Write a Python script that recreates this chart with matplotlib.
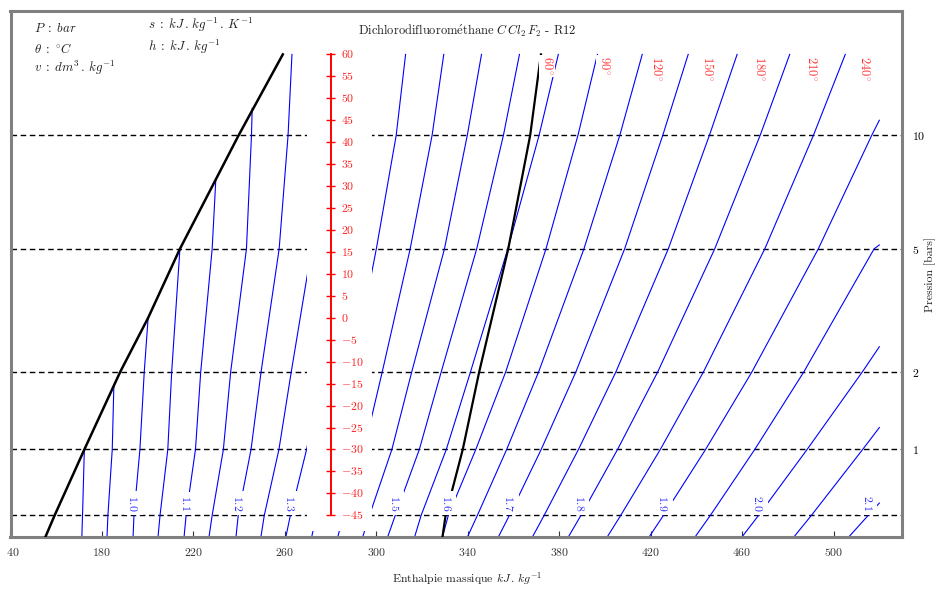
import numpy as np
import matplotlib.pyplot as plt
from matplotlib.patches import Rectangle
from matplotlib.transforms import Bbox

plt.rcParams['font.family'] = ['cmr10', 'DejaVu Serif']
plt.rcParams['mathtext.fontset'] = 'cm'
plt.rcParams['axes.formatter.use_mathtext'] = True

# temperature levels (deg C) where the curves were read
T_lev = [-50, -45, -30, -12.3, 15.7, 41.6, 60]

# saturation curve (liquid / vapour), enthalpy kJ/kg
liq_T = [-50, -45, -30, -12.3, 0, 15.7, 41.6, 60]
liq_h = [155.2, 159.3, 172.3, 188.0, 200.2, 214.1, 239.8, 259.1]
vap_h = [328.9, 330.3, 337.8, 345.0, 357.7, 367.3, 372.0]

# isentropes : h at each level of T_lev (None = not on the chart)
iso_s = [0.90, 0.95, 1.00, 1.05, 1.10, 1.15, 1.20, 1.25, 1.30, 1.35, 1.40, 1.45,
         1.50, 1.55, 1.60, 1.65, 1.70, 1.75, 1.80, 1.85, 1.90, 1.95, 2.00, 2.05, 2.10]
N = None
iso_h = [
    [171.2, 171.5, N, N, N, N, N],
    [182.2, 182.6, 184.5, N, N, N, N],
    [193.6, 194.0, 196.6, 198.5, N, N, N],
    [204.5, 205.4, 208.8, 210.5, N, N, N],
    [215.9, 216.8, 220.9, 223.2, 228.2, N, N],
    [226.8, 228.2, 233.1, 236.3, 243.2, 245.4, N],
    [238.6, 239.6, 245.2, 249.6, 257.5, 261.4, 263.1],
    [249.5, 251.0, 257.4, 262.8, 271.7, 277.1, 279.6],
    [260.4, 262.4, 269.5, 276.2, 286.1, 292.9, 296.2],
    [271.7, 273.8, 282.3, 289.6, 300.0, 308.7, 312.8],
    [283.1, 285.6, 294.6, 302.6, 314.8, 324.4, 329.5],
    [294.0, 297.0, 306.8, 315.5, 329.8, 339.8, 346.0],
    [304.9, 308.3, 318.8, 328.4, 343.9, 355.6, 362.6],
    [316.7, 319.6, 330.6, 341.2, 357.5, 371.2, 379.6],
    [328.9, 331.5, 343.5, 356.6, 374.2, 388.2, 396.7],
    [339.8, 344.2, 357.0, 371.0, 390.8, 406.5, 416.3],
    [353.3, 358.2, 372.1, 387.3, 408.6, 425.3, 436.4],
    [368.2, 373.4, 388.4, 404.8, 427.7, 445.7, 457.8],
    [383.9, 389.5, 405.5, 423.1, 448.0, 467.9, 480.8],
    [400.9, 406.9, 424.2, 443.1, 469.9, 491.2, 505.1],
    [419.2, 425.6, 444.0, 464.3, 493.3, 516.7, N],
    [439.3, 446.1, 465.5, 487.0, 517.7, N, N],
    [459.8, 467.2, 488.4, 512.6, N, N, N],
    [482.5, 490.3, 512.7, N, N, N, N],
    [506.5, N, N, N, N, N, N],
]
# point where the isentrope leaves the liquid line (T, h)
iso_start = {0.90: (-30, 172.3), 0.95: (-15.6, 185.2), 1.00: (0, 200.2),
             1.05: (15.7, 214.1), 1.10: (31.5, 229.8), 1.15: (47.7, 245.7)}
# temperature where the isentrope reaches h = 520
h_end = 520
iso_exit = {1.90: 45.0, 1.95: 16.6, 2.00: -6.6, 2.05: -25.0, 2.10: -42.2}

# isobars (bar) and matching saturation temperature
p_bar = [0.5, 1, 2, 5, 10]
p_T = [-45.0, -30.0, -12.3, 15.7, 41.6]

# labels (1.4 is hidden behind the temperature scale)
s_lab = ['1.0', '1.1', '1.2', '1.3', '1.5', '1.6', '1.7', '1.8', '1.9', '2.0', '2.1']
s_lab_h = [193.7, 216.6, 239.6, 262.2, 308.2, 330.8, 358.2, 389.1, 425.5, 467.1, 514.9]
t_lab = ['60', '90', '120', '150', '180', '210', '240']
t_lab_h = [374.8, 399.6, 422.6, 445.2, 467.8, 490.4, 513.3]
theta_ticks = list(range(-45, 61, 5))
x_ticks = [140, 180, 220, 260, 300, 340, 380, 420, 460, 500]

W, H = 940, 591
fig = plt.figure(figsize=(W / 100, H / 100), dpi=100)
x0, x1, y0, y1 = 10.5, 902.2, 10.5, 537.3
ax = fig.add_axes([x0 / W, 1 - y1 / H, (x1 - x0) / W, (y1 - y0) / H])
ax.set_xlim(140, 530)
ax.set_ylim(-50, 70)

for sp in ax.spines.values():
    sp.set_color('#808080')
    sp.set_linewidth(2.2)

# isobars
for t in p_T:
    ax.axhline(t, color='black', lw=1.0, ls=(0, (4, 2.6)), zorder=2)

# isentropes
for s, row in zip(iso_s, iso_h):
    pts = [(t, h) for t, h in zip(T_lev, row) if h is not None]
    if s in iso_start:
        pts.append(iso_start[s])
    if s in iso_exit:
        pts.append((iso_exit[s], h_end))
    pts.sort()
    ax.plot([p[1] for p in pts], [p[0] for p in pts], color='#0000ff', lw=0.8, zorder=2)

# saturation curve
ax.plot(liq_h, liq_T, color='black', lw=1.8, zorder=3)
ax.plot(vap_h, T_lev, color='black', lw=1.6, zorder=3)

box = dict(facecolor='white', edgecolor='none', pad=2.5)
for lab, h in zip(s_lab, s_lab_h):
    ax.text(h, -42.2, '$' + lab + '$', rotation=-90, color='#3030ff', fontsize=8.5,
            ha='center', va='center', bbox=box, zorder=3.5)
for lab, h in zip(t_lab, t_lab_h):
    ax.text(h, 59.6, '$' + lab + r'^{\circ}$', rotation=-90, color='#ff3838', fontsize=9,
            ha='center', va='top', bbox=dict(facecolor='white', edgecolor='none', pad=1.2),
            zorder=3.5)

# white band + temperature scale
ax.add_patch(Rectangle((269.5, -48.5), 28.5, 117.5, facecolor='white',
                       edgecolor='none', zorder=4))
ax.plot([280, 280], [-45, 60], color='red', lw=1.4, zorder=5)
ax.hlines(theta_ticks, 278.2, 281.8, color='red', lw=1.0, zorder=5)
for t in theta_ticks:
    ax.text(284.4, t, '$%d$' % t, color='#ff2020', fontsize=8.5, ha='left',
            va='center', zorder=5)

# axes ticks
ax.set_xticks(x_ticks)
ax.set_xticklabels(['$%d$' % v for v in x_ticks])
ax.tick_params(axis='x', direction='in', length=4, width=0.8, pad=6, labelsize=8.5,
               colors='#333333')
ax.yaxis.tick_right()
ax.set_yticks(p_T[1:])
ax.set_yticklabels(['$%g$' % p for p in p_bar[1:]])
ax.tick_params(axis='y', length=0, pad=7, labelsize=8.5)
first = ax.get_xticklabels()[0]
first.set_clip_box(Bbox([[6.5, 0], [W, H]]))
first.set_clip_on(True)

fig.text(467 / W, 1 - 579 / H, r'Enthalpie massique $kJ\,.\,kg^{-1}$', fontsize=8.5,
         ha='center', va='center', color='#222222')
fig.text(930 / W, 1 - 274 / H, 'Pression [bars]', rotation=90, fontsize=8.5,
         ha='center', va='center', color='#222222')
fig.text(467 / W, 1 - 31 / H,
         r'Dichlorodifluorom$\mathrm{\acute{e}}$thane $C\,Cl_2\,F_2$ - R12', fontsize=9,
         ha='center', va='center', color='#222222')

fs = 9.3
fig.text(34 / W, 1 - 28 / H, r'$P\;:\;bar$', fontsize=fs, va='center', color='#222222')
fig.text(34 / W, 1 - 49 / H, r'$\theta\;:\;^{\circ}C$', fontsize=fs, va='center', color='#222222')
fig.text(34 / W, 1 - 68 / H, r'$v\;:\;dm^3\,.\,kg^{-1}$', fontsize=fs, va='center', color='#222222')
fig.text(148 / W, 1 - 25 / H, r'$s\;:\;kJ\,.\,kg^{-1}\,.\,K^{-1}$', fontsize=fs, va='center',
         color='#222222')
fig.text(148 / W, 1 - 47 / H, r'$h\;:\;kJ\,.\,kg^{-1}$', fontsize=fs, va='center', color='#222222')

fig.savefig('out.png', dpi=100)
